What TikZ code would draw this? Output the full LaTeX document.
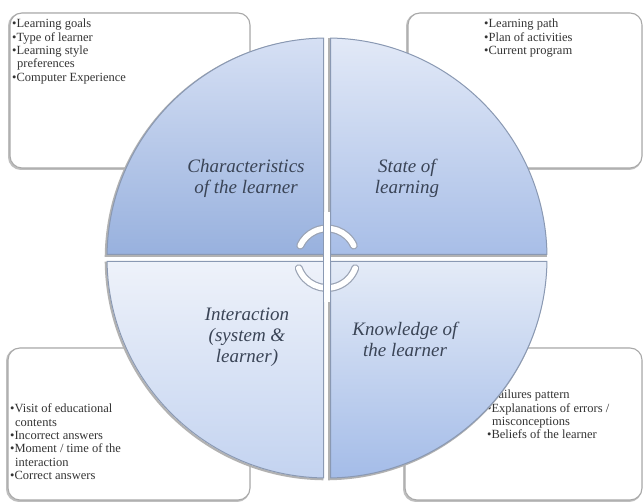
\documentclass[tikz,border=0pt]{standalone}
\usepackage{fontspec}
\setmainfont{Liberation Serif}
\definecolor{boxgray}{HTML}{A9A9A9}
\definecolor{qedge}{HTML}{8A99B3}
\definecolor{labc}{HTML}{3A4456}
\definecolor{arcgray}{HTML}{9AA3B4}
\definecolor{tltop}{HTML}{D6E0F4}
\definecolor{tlbot}{HTML}{98B1DE}
\definecolor{trtop}{HTML}{E2E9F7}
\definecolor{trbot}{HTML}{A8BEE7}
\definecolor{bltop}{HTML}{EEF2FA}
\definecolor{blbot}{HTML}{C3D3F0}
\definecolor{brtop}{HTML}{E4EBF7}
\definecolor{brbot}{HTML}{A4BCE8}
\begin{document}
\begin{tikzpicture}[x=1pt,y=1pt,
  box/.style={draw=boxgray, line width=1.1pt, rounded corners=12pt, fill=white, inner sep=0pt},
  boxshadow/.style={draw=black!25, line width=2pt, rounded corners=12pt},
  quad/.style={draw=qedge, line width=1pt},
  qshadow/.style={draw=black!30, line width=2.2pt},
  lab/.style={font=\fontsize{19}{21}\selectfont\itshape, text=labc, align=center, inner sep=0pt},
  lst/.style={font=\fontsize{12.5}{13.3}\selectfont, text=black!80, align=left, anchor=north west, inner sep=0pt},
  cyc/.style={line width=8pt, draw=arcgray, line cap=round},
  cycin/.style={line width=5.6pt, draw=white, line cap=round},
]
\useasboundingbox (0,0) rectangle (644,502);
\fill[white] (0,0) rectangle (644,502);

% boxes
\draw[boxshadow] (9,333) rectangle (249,488);
\node[box, minimum width=240pt, minimum height=155pt] (tlbox) at (130,411.5) {};
\draw[boxshadow] (407,333) rectangle (641,488);
\node[box, minimum width=234pt, minimum height=155pt] (trbox) at (525,411.5) {};
\draw[boxshadow] (7,1) rectangle (249,153);
\node[box, minimum width=242pt, minimum height=152pt] (blbox) at (129,78) {};
\draw[boxshadow] (404,1) rectangle (641,153);
\node[box, minimum width=237pt, minimum height=152pt] (brbox) at (523.5,78) {};

% box texts
\node[lst] (tltext) at (12,483) {\textbullet Learning goals\\\textbullet Type of learner\\\textbullet Learning style\\\hspace{5pt}preferences\\\textbullet Computer Experience};
\node[lst] (trtext) at (484,483) {\textbullet Learning path\\\textbullet Plan of activities\\\textbullet Current program};
\node[lst] (bltext) at (10,98) {\textbullet Visit of educational\\\hspace{5pt}contents\\\textbullet Incorrect answers\\\textbullet Moment / time of the\\\hspace{5pt}interaction\\\textbullet Correct answers};
\node[lst] (brtext) at (487,112) {\textbullet Failures pattern\\\textbullet Explanations of errors /\\\hspace{5pt}misconceptions\\\textbullet Beliefs of the learner};

% quadrant shadows
\begin{scope}[shift={(-1.2,-1.2)}]
\draw[qshadow] (323.5,247.5) -- (323.5,463.97) arc[start angle=90.91, end angle=179.09, radius=220] -- cycle;
\draw[qshadow] (330.5,247.5) -- (546.97,247.5) arc[start angle=0.91, end angle=89.09, radius=220] -- cycle;
\draw[qshadow] (323.5,240.5) -- (107.03,240.5) arc[start angle=180.91, end angle=269.09, radius=220] -- cycle;
\draw[qshadow] (330.5,240.5) -- (330.5,24.03) arc[start angle=270.91, end angle=359.09, radius=220] -- cycle;
\end{scope}

% quadrants
\shade[quad, top color=tltop, bottom color=tlbot] (323.5,247.5) -- (323.5,463.97) arc[start angle=90.91, end angle=179.09, radius=220] -- cycle;
\shade[quad, top color=trtop, bottom color=trbot] (330.5,247.5) -- (546.97,247.5) arc[start angle=0.91, end angle=89.09, radius=220] -- cycle;
\shade[quad, top color=bltop, bottom color=blbot] (323.5,240.5) -- (107.03,240.5) arc[start angle=180.91, end angle=269.09, radius=220] -- cycle;
\shade[quad, top color=brtop, bottom color=brbot] (330.5,240.5) -- (330.5,24.03) arc[start angle=270.91, end angle=359.09, radius=220] -- cycle;

% labels
\node[lab] (lchar) at (246,324) {Characteristics\\of the learner};
\node[lab] (lstate) at (407,324) {State of\\learning};
\node[lab] (linter) at (247,165) {Interaction\\(system \&\\learner)};
\node[lab] (lknow) at (405,163) {Knowledge of\\the learner};

% cycle arcs
\coordinate (cc) at (327,244);
\draw[cyc] ([shift={(25:29.5)}]cc) arc[start angle=25, end angle=155, radius=29.5];
\draw[cycin] ([shift={(25:29.5)}]cc) arc[start angle=25, end angle=155, radius=29.5];
\draw[cyc] ([shift={(200:30)}]cc) arc[start angle=200, end angle=340, radius=30];
\draw[cycin] ([shift={(200:30)}]cc) arc[start angle=200, end angle=340, radius=30];
\fill[white] (324.1,200) rectangle (329.9,290);
\draw[qedge, line width=0.6pt] (323.7,205) -- (323.7,285) (330.3,205) -- (330.3,285);
\end{tikzpicture}
\end{document}
